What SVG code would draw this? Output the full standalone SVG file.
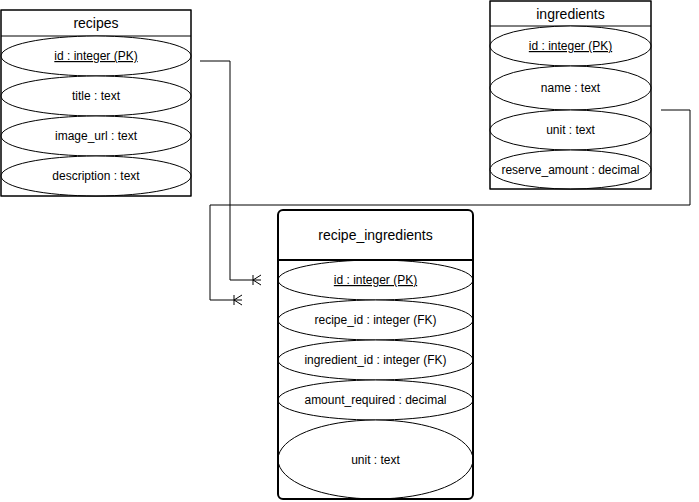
<svg xmlns="http://www.w3.org/2000/svg" width="699" height="502" viewBox="0 0 699 502">
<style>
.box{fill:#fff;stroke:#000;stroke-width:1}
.boxb{fill:none;stroke:#000;stroke-width:1}
.el{fill:#fff;stroke:#000;stroke-width:1}
.hd{font-family:"Liberation Sans",Arial,sans-serif;font-size:14px;fill:#000;text-anchor:middle}
.fd{font-family:"Liberation Sans",Arial,sans-serif;font-size:12px;fill:#000;text-anchor:middle}
.pk{text-decoration:underline}
.cn{fill:none;stroke:#000;stroke-width:1}
</style>
<defs>
<marker id="many" markerUnits="userSpaceOnUse" markerWidth="20" markerHeight="20" viewBox="-10 -10 20 20" refX="0" refY="0" orient="auto" overflow="visible">
<path d="M-8,-5 L-8,5 M-8,0 L0,-5 M-8,0 L0,5" fill="none" stroke="#000" stroke-width="1"/>
</marker>
</defs>
<g id="recipes">
<rect class="box" x="1" y="10" width="190" height="186"/>
<line class="boxb" x1="1" y1="36" x2="191" y2="36"/>
<text class="hd" x="96" y="28">recipes</text>
<ellipse class="el" cx="96" cy="56" rx="95" ry="20"/>
<text class="fd pk" x="96" y="60">id : integer (PK)</text>
<ellipse class="el" cx="96" cy="96" rx="95" ry="20"/>
<text class="fd" x="96" y="100">title : text</text>
<ellipse class="el" cx="96" cy="136" rx="95" ry="20"/>
<text class="fd" x="96" y="140">image_url : text</text>
<ellipse class="el" cx="96" cy="176" rx="95" ry="20"/>
<text class="fd" x="96" y="180">description : text</text>
<rect class="boxb" x="1" y="10" width="190" height="186"/>
</g>
<g id="ingredients">
<rect class="box" x="490" y="1" width="161" height="188"/>
<line class="boxb" x1="490" y1="26" x2="651" y2="26"/>
<text class="hd" x="570.5" y="18.5">ingredients</text>
<ellipse class="el" cx="570.5" cy="46" rx="80.5" ry="20"/>
<text class="fd pk" x="570.5" y="50">id : integer (PK)</text>
<ellipse class="el" cx="570.5" cy="88" rx="80.5" ry="22"/>
<text class="fd" x="570.5" y="92">name : text</text>
<ellipse class="el" cx="570.5" cy="130" rx="80.5" ry="20"/>
<text class="fd" x="570.5" y="134">unit : text</text>
<ellipse class="el" cx="570.5" cy="169.5" rx="80.5" ry="19.5"/>
<text class="fd" x="570.5" y="173.5">reserve_amount : decimal</text>
<rect class="boxb" x="490" y="1" width="161" height="188"/>
</g>
<g id="recipe_ingredients">
<rect x="278" y="210" width="195" height="289" rx="5" ry="5" fill="#fff" stroke="none"/>
<text class="hd" x="375.5" y="240">recipe_ingredients</text>
<ellipse class="el" cx="375.5" cy="280" rx="97.5" ry="20"/>
<text class="fd pk" x="375.5" y="284">id : integer (PK)</text>
<ellipse class="el" cx="375.5" cy="320" rx="97.5" ry="20"/>
<text class="fd" x="375.5" y="324">recipe_id : integer (FK)</text>
<ellipse class="el" cx="375.5" cy="360" rx="97.5" ry="20"/>
<text class="fd" x="375.5" y="364">ingredient_id : integer (FK)</text>
<ellipse class="el" cx="375.5" cy="400" rx="97.5" ry="20"/>
<text class="fd" x="375.5" y="404">amount_required : decimal</text>
<ellipse class="el" cx="375.5" cy="459.5" rx="97.5" ry="39.5"/>
<text class="fd" x="375.5" y="464">unit : text</text>
<line x1="278" y1="260" x2="473" y2="260" stroke="#000" stroke-width="2"/>
<rect x="278" y="210" width="195" height="289" rx="5" ry="5" fill="none" stroke="#000" stroke-width="2"/>
</g>
<g id="connectors">
<polyline class="cn" points="200,61 230,61 230,280 261,280" marker-end="url(#many)"/>
<polyline class="cn" points="661,110 690,110 690,205 210,205 210,300 242,300" marker-end="url(#many)"/>
</g>
</svg>
